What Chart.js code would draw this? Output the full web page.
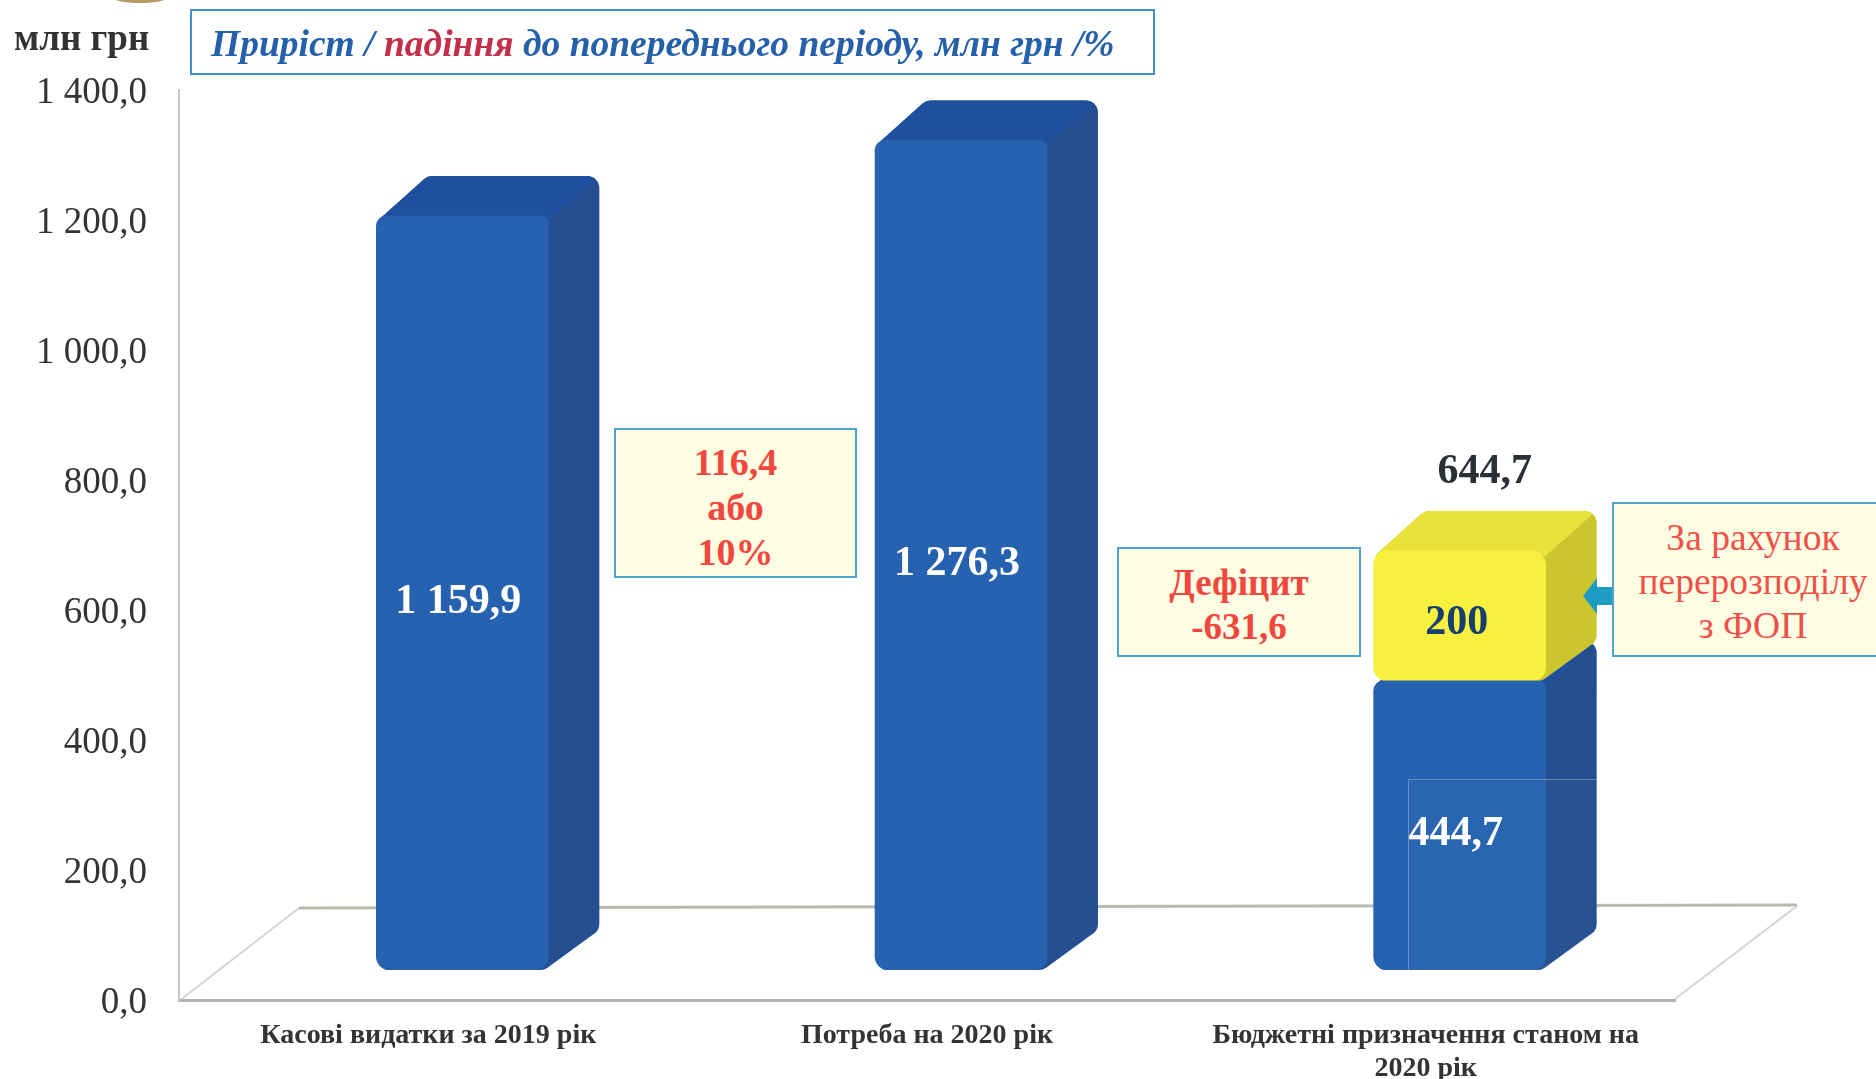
<!DOCTYPE html>
<html lang="uk">
<head>
<meta charset="utf-8">
<title>Потреба на 2020 рік</title>
<script src="https://cdn.jsdelivr.net/npm/chart.js@4"></script>
<style>
  html, body { margin: 0; padding: 0; background: #fff; }
  #wrap { position: relative; width: 1876px; height: 1079px; overflow: hidden; font-family: "Liberation Serif", serif; }
  canvas { position: absolute; left: 0; top: 0; }
  .note { position: absolute; box-sizing: border-box; text-align: center; background: #fdfde3; border: 2px solid #4ba3cf; color: #f2473f; font-weight: bold; }
  #unit { position: absolute; left: 14px; top: 16px; font-size: 37px; font-weight: bold; color: #333; white-space: nowrap; }
  #title { position: absolute; left: 190px; top: 9px; width: 965px; height: 66px; box-sizing: border-box; border: 2px solid #3f8fca; background: #fff;
           font-size: 37.5px; font-weight: bold; font-style: italic; color: #2560aa; line-height: 66px; padding-left: 19px; white-space: nowrap; }
  #title span { color: #c4304a; }
  #arrow { position: absolute; left: 1583px; top: 578px; }
  #faint { position: absolute; left: 1408px; top: 779px; width: 205px; height: 194px; box-sizing: border-box; background: rgba(255,255,255,.018);
           border: 1px solid rgba(255,255,255,.28); border-right: 0; }
  #smudge { position: absolute; left: 115px; top: -6px; width: 50px; height: 9px; border-radius: 50%; background: #b59a63; }
</style>
</head>
<body>
<div id="wrap">
  <canvas id="chart" width="1876" height="1079"></canvas>
  <div id="smudge"></div>
  <div id="unit">млн грн</div>
  <div id="title">Приріст / <span>падіння</span> до попереднього періоду, млн грн /%</div>
  <div class="note" style="left:614px;top:428px;width:243px;height:150px;font-size:38px;line-height:45px;padding-top:10px">116,4<br>або<br>10%</div>
  <div class="note" style="left:1117px;top:547px;width:244px;height:110px;font-size:37px;line-height:44px;padding-top:12px">Дефіцит<br>-631,6</div>
  <div class="note" style="left:1612px;top:502px;width:282px;height:155px;font-size:37.5px;line-height:44px;padding-top:12px;font-weight:normal;color:#f0504a">За рахунок<br>перерозподілу<br>з ФОП</div>
  <svg id="arrow" width="30" height="36"><polygon points="0,18 14,0 14,9 29,9 29,27 14,27 14,36" fill="#1f9cc4"/></svg>
  <div id="faint"></div>
</div>
<script>
// Chart values
const categories = [['Касові видатки за 2019 рік'], ['Потреба на 2020 рік'], ['Бюджетні призначення станом на', '2020 рік']];
const baseValues = [1159.9, 1276.3, 444.7];
const extraValues = [null, null, 200];
const baseLabels = ['1 159,9', '1 276,3', '444,7'];
const extraLabels = [null, null, '200'];
const totalLabels = [null, null, '644,7'];
const yTickLabels = ['0,0', '200,0', '400,0', '600,0', '800,0', '1 000,0', '1 200,0', '1 400,0'];

// pseudo 3D look
const SHIFT_X = 34, SHIFT_Y = -30;   // bars stand inside the floor, not on its front edge
const DEPTH_X = 51, DEPTH_Y = 40;    // side and top faces of a bar
const FLOOR_X = 120, FLOOR_Y = 92;

const faces = {
  blue: { top: '#1f50a0', side: '#254f90' },
  yellow: { top: '#e8e23a', side: '#cbc62e' }
};

function roundPoly(ctx, pts, r) {
  ctx.beginPath();
  const n = pts.length;
  ctx.moveTo((pts[0][0] + pts[n - 1][0]) / 2, (pts[0][1] + pts[n - 1][1]) / 2);
  for (let i = 0; i < n; i++) {
    const p = pts[i], q = pts[(i + 1) % n];
    ctx.arcTo(p[0], p[1], q[0], q[1], r);
  }
  ctx.closePath();
}

const floorPlugin = {
  id: 'floor',
  beforeDraw(chart) {
    const { ctx, chartArea: a } = chart;
    ctx.save();
    ctx.lineWidth = 2;
    ctx.strokeStyle = '#d4d4d4';
    ctx.beginPath();
    ctx.moveTo(a.left, a.bottom + 1);
    ctx.lineTo(a.left + FLOOR_X, a.bottom - FLOOR_Y);
    ctx.moveTo(a.right, a.bottom - 1);
    ctx.lineTo(a.right + FLOOR_X + 2, a.bottom - FLOOR_Y - 2);
    ctx.stroke();
    ctx.lineWidth = 3;
    ctx.strokeStyle = '#b9b9b0';
    ctx.beginPath();
    ctx.moveTo(a.left + FLOOR_X, a.bottom - FLOOR_Y);
    ctx.lineTo(a.right + FLOOR_X + 2, a.bottom - FLOOR_Y - 3);
    ctx.stroke();
    ctx.restore();
  }
};

const boxPlugin = {
  id: 'box',
  beforeDatasetsDraw(chart) {
    const ctx = chart.ctx;
    ctx.save();
    ctx.translate(SHIFT_X, SHIFT_Y);
    chart.data.datasets.forEach((ds, d) => {
      const look = faces[ds.face];
      chart.getDatasetMeta(d).data.forEach((bar, i) => {
        if (ds.data[i] == null) return;
        const l = bar.x - bar.width / 2, r = bar.x + bar.width / 2;
        const t = bar.y, b = bar.base;
        ctx.save();
        roundPoly(ctx, [[l + 1, t + 5], [l + DEPTH_X, t - DEPTH_Y], [r + DEPTH_X, t - DEPTH_Y], [r + DEPTH_X, b - DEPTH_Y], [r - 4, b], [l + 1, b]], 12);
        ctx.fillStyle = look.side;
        ctx.fill();
        ctx.clip();
        ctx.fillStyle = look.top;
        ctx.beginPath();
        ctx.moveTo(l - 5, t + 5);
        ctx.lineTo(l + DEPTH_X - 5, t - DEPTH_Y - 5);
        ctx.lineTo(r + DEPTH_X + 5, t - DEPTH_Y - 5);
        ctx.lineTo(r, t + 5);
        ctx.closePath();
        ctx.fill();
        ctx.restore();
      });
    });
    // Leave translated: the bars themselves are drawn next, restored in afterDatasetsDraw
  },
  afterDatasetsDraw(chart) {
    const ctx = chart.ctx;
    ctx.restore();
    ctx.save();
    ctx.textAlign = 'center';
    ctx.textBaseline = 'middle';
    ctx.font = 'bold 42px "Liberation Serif"';
    const low = chart.getDatasetMeta(0).data, high = chart.getDatasetMeta(1).data;
    low.forEach((bar, i) => {
      ctx.fillStyle = '#fff';
      ctx.fillText(baseLabels[i], bar.x + SHIFT_X - 4, (bar.y + bar.base) / 2 + SHIFT_Y + 9);
      if (extraLabels[i]) {
        ctx.fillStyle = '#163f70';
        ctx.fillText(extraLabels[i], high[i].x + SHIFT_X - 3, (high[i].y + high[i].base) / 2 + SHIFT_Y + 7);
      }
      if (totalLabels[i]) {
        ctx.fillStyle = '#2a2f38';
        ctx.fillText(totalLabels[i], high[i].x + SHIFT_X + 25, high[i].y + SHIFT_Y - 79);
      }
    });
    ctx.restore();
  }
};

const blueRadius = { topLeft: 10, topRight: 8, bottomLeft: 14, bottomRight: 14 };
const yellowRadius = { topLeft: 14, topRight: 14, bottomLeft: 14, bottomRight: 14 };

new Chart(document.getElementById('chart'), {
  type: 'bar',
  data: {
    labels: categories,
    datasets: [
      { data: baseValues, face: 'blue', backgroundColor: '#2662b0', barThickness: 172, borderSkipped: false, borderRadius: blueRadius },
      { data: extraValues, face: 'yellow', backgroundColor: '#f7f03e', barThickness: 172, borderSkipped: false, borderRadius: yellowRadius }
    ]
  },
  options: {
    responsive: false,
    animation: false,
    layout: { padding: { left: 0, right: 201, top: 90, bottom: 0 } },
    plugins: { legend: { display: false }, tooltip: { enabled: false } },
    scales: {
      x: {
        stacked: true,
        grid: { display: false, drawTicks: false },
        border: { color: '#b4b4ae', width: 3 },
        afterFit(s) { s.height = 79; },
        ticks: { padding: 20, maxRotation: 0, color: '#333', font: { family: 'Liberation Serif', size: 28, weight: 'bold', lineHeight: 1.15 } }
      },
      y: {
        stacked: true,
        min: 0,
        max: 1400,
        afterFit(s) { s.width = 179; },
        grid: { display: false, drawTicks: false },
        border: { color: '#c6c6c6', width: 2 },
        ticks: {
          stepSize: 200,
          padding: 32,
          labelOffset: 3,
          color: '#333',
          font: { family: 'Liberation Serif', size: 37 },
          callback: (v) => yTickLabels[v / 200]
        }
      }
    }
  },
  plugins: [floorPlugin, boxPlugin]
});
</script>
</body>
</html>
